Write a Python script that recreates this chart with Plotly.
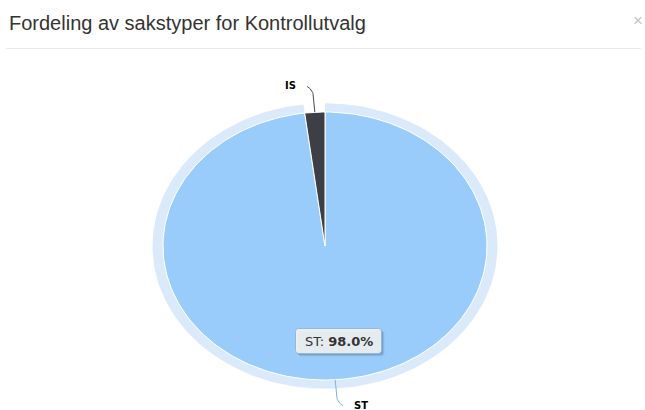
import numpy as np
import plotly.graph_objects as go

# Share of case types (percent)
categories = ["ST", "IS"]
shares = [98.0, 2.0]
slice_colors = ["#99ccfa", "#3e3e46"]
connector_colors = ["#7fb2e0", "#4a4a50"]
title_text = "Fordeling av sakstyper for Kontrollutvalg"

W, H = 645, 410
# Pie centre and radii in pixel space (the pie is drawn as an ellipse)
CX, CY, RX, RY = 325.0, 246.0, 162.0, 134.0
HALO_R = 1.065
HIGHLIGHT = 0  # slice shown with halo and tooltip


def pt(theta_deg, r):
    t = np.radians(theta_deg)
    return CX + r * RX * np.sin(t), CY - r * RY * np.cos(t)


def arc(t0, t1, r, n=200):
    th = np.linspace(t0, t1, n)
    x, y = pt(th, r)
    return list(x), list(y)


fig = go.Figure()

total = float(sum(shares))
bounds = []
start = 0.0
for s in shares:
    end = start + s / total * 360.0
    bounds.append((start, end))
    start = end

# Hover halo around the highlighted slice
h0, h1 = bounds[HIGHLIGHT]
ox, oy = arc(h0, h1, HALO_R)
ix, iy = arc(h1, h0, 1.0)
fig.add_trace(go.Scatter(
    x=ox + ix, y=oy + iy, mode="lines", fill="toself",
    fillcolor="#dbeafb", line=dict(width=0), hoverinfo="skip", showlegend=False,
))

# Slices
for (t0, t1), col in zip(bounds, slice_colors):
    ax, ay = arc(t0, t1, 1.0)
    fig.add_trace(go.Scatter(
        x=[CX] + ax + [CX], y=[CY] + ay + [CY], mode="lines", fill="toself",
        fillcolor=col, line=dict(color="white", width=1),
        hoverinfo="skip", showlegend=False,
    ))

# Data label connectors and labels
annotations = []
for (t0, t1), name, ccol in zip(bounds, categories, connector_colors):
    mid = (t0 + t1) / 2.0
    side = 1.0 if np.sin(np.radians(mid)) >= 0 else -1.0
    vert = -1.0 if np.cos(np.radians(mid)) > 0 else 1.0
    p0 = pt(mid, 1.0)
    pa = pt(mid, 1.11)
    pc = pt(mid, 1.17)
    pe = (pc[0] + side * 6.0, pc[1] + vert * 3.0)
    tt = np.linspace(0, 1, 12)
    bx = (1 - tt) ** 2 * pa[0] + 2 * (1 - tt) * tt * pc[0] + tt ** 2 * pe[0]
    by = (1 - tt) ** 2 * pa[1] + 2 * (1 - tt) * tt * pc[1] + tt ** 2 * pe[1]
    fig.add_trace(go.Scatter(
        x=[p0[0]] + list(bx), y=[p0[1]] + list(by), mode="lines",
        line=dict(color=ccol, width=1), hoverinfo="skip", showlegend=False,
    ))
    annotations.append(dict(
        x=pe[0] + side * 9.0, y=pe[1] + (vert * 0.5 if vert > 0 else -1.5),
        xref="x", yref="y",
        text=f"<b>{name}</b>", showarrow=False,
        xanchor="left" if side > 0 else "right", yanchor="middle",
        font=dict(family="DejaVu Sans", size=10, color="#000000"),
    ))

# Tooltip box
bx0, by0, bx1, by1, rr = 295.5, 328.5, 381.5, 353.5, 3.0


def rounded(x0, y0, x1, y1, r):
    return (f"M{x0 + r},{y0} L{x1 - r},{y0} Q{x1},{y0} {x1},{y0 + r} "
            f"L{x1},{y1 - r} Q{x1},{y1} {x1 - r},{y1} L{x0 + r},{y1} "
            f"Q{x0},{y1} {x0},{y1 - r} L{x0},{y0 + r} Q{x0},{y0} {x0 + r},{y0} Z")


shapes = []
for off, op in [(3, 0.05), (2, 0.10), (1, 0.15)]:
    shapes.append(dict(type="path", xref="x", yref="y",
                       path=rounded(bx0 + off, by0 + off, bx1 + off, by1 + off, rr),
                       fillcolor=f"rgba(0,0,0,{op})", line=dict(width=0)))
shapes.append(dict(type="path", xref="x", yref="y",
                   path=rounded(bx0, by0, bx1, by1, rr),
                   fillcolor="rgba(247,247,247,0.88)",
                   line=dict(color="#93b9dc", width=1)))

annotations.append(dict(
    x=(bx0 + bx1) / 2, y=(by0 + by1) / 2 + 0.5, xref="x", yref="y",
    text=f"{categories[HIGHLIGHT]}: <b>{shares[HIGHLIGHT]:.1f}%</b>",
    showarrow=False, xanchor="center", yanchor="middle",
    font=dict(family="DejaVu Sans", size=13, color="#333333"),
))

# Header: title, close mark and separator
annotations.append(dict(
    x=7, y=23, xref="x", yref="y", text=title_text, showarrow=False,
    xanchor="left", yanchor="middle",
    font=dict(family="Liberation Sans, Arial", size=20, color="#333333"),
))
annotations.append(dict(
    x=645, y=20, xref="x", yref="y", text="×", showarrow=False,
    xanchor="right", yanchor="middle",
    font=dict(family="Liberation Sans, Arial", size=17, color="#c4c4c4"),
))
shapes.append(dict(type="line", xref="x", yref="y", x0=6, x1=641, y0=48.5, y1=48.5,
                   line=dict(color="#e9e9e9", width=1)))

fig.update_layout(
    width=W, height=H,
    margin=dict(l=0, r=0, t=0, b=0),
    paper_bgcolor="white", plot_bgcolor="white",
    xaxis=dict(range=[0, W], visible=False, fixedrange=True),
    yaxis=dict(range=[H, 0], visible=False, fixedrange=True),
    shapes=shapes, annotations=annotations, showlegend=False,
)

fig.write_html("out.html")
